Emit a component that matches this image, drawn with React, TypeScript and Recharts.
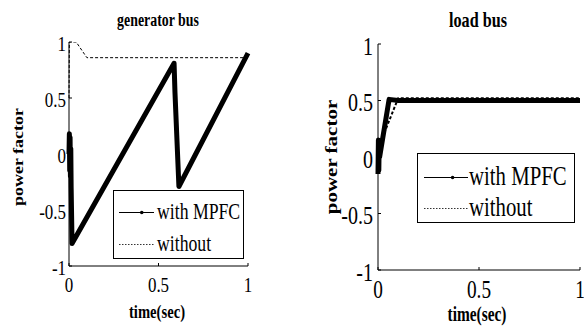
import { LineChart, Line, XAxis, YAxis, Legend } from 'recharts'

const FONT = "'Liberation Serif', 'Times New Roman', Tinos, 'DejaVu Serif', serif"
const SQ = 0.77

const xTicks = [0, 0.5, 1]
const yTicks = [-1, -0.5, 0, 0.5, 1]

// generator bus
const genTimeWith = [0, 0.002, 0.004, 0.006, 0.008, 0.01, 0.012, 0.017, 0.587, 0.592, 0.614, 1]
const genWith = [0, 0.18, -0.15, 0.15, -0.2, 0.05, -0.3, -0.8, 0.81, 0.55, -0.29, 0.9]
const genTimeWithout = [0, 0.002, 0.04, 0.1, 1]
const genWithout = [0.5, 1, 1, 0.86, 0.86]

// load bus
const loadTimeWith = [0, 0.002, 0.004, 0.006, 0.008, 0.055, 0.1, 1]
const loadWith = [-0.15, 0.15, -0.12, 0.12, 0, 0.51, 0.5, 0.5]
const loadTimeWithout = [0, 0.01, 0.1, 1]
const loadWithout = [0, 0.12, 0.52, 0.52]

const legendOrder = ['with MPFC', 'without']

const zip = (t: number[], v: number[]) => t.map((time, i) => ({ time, pf: v[i] }))

const makeYTick = (fs: number, gap: number) => (props: any) => {
  const { x, y, payload } = props
  return (
    <g>
      <line x1={x} x2={x + 3} y1={y} y2={y} stroke="#000" />
      <text
        transform={`translate(${x - gap},${y + 2}) scale(${SQ},1)`}
        textAnchor="end"
        dominantBaseline="central"
        fontSize={fs}
        fontFamily={FONT}
        fill="#000"
      >
        {payload.value}
      </text>
    </g>
  )
}

const makeXTick = (fs: number, off: number) => (props: any) => {
  const { x, y, payload } = props
  return (
    <g>
      <line x1={x} x2={x} y1={y} y2={y - 3} stroke="#000" />
      <text
        transform={`translate(${x},${y + off}) scale(${SQ},1)`}
        textAnchor="middle"
        dominantBaseline="central"
        fontSize={fs}
        fontFamily={FONT}
        fill="#000"
      >
        {payload.value}
      </text>
    </g>
  )
}

function LegendBox({ payload, fs, w, h, rows, sampleX, sampleW, textX }: any) {
  const items = [...(payload || [])].sort(
    (a: any, b: any) => legendOrder.indexOf(a.value) - legendOrder.indexOf(b.value)
  )
  return (
    <div
      style={{
        width: w,
        height: h,
        border: '1px solid #000',
        background: '#fff',
        position: 'relative',
        boxSizing: 'border-box',
      }}
    >
      {items.map((item: any, i: number) => {
        const dashed = item.value === 'without'
        return (
          <div key={item.value} style={{ position: 'absolute', left: 0, top: rows[i], width: w, height: 0 }}>
            <svg
              width={sampleW}
              height={7}
              style={{ position: 'absolute', left: sampleX, top: -4, overflow: 'visible', display: 'block' }}
            >
              <line
                x1={0}
                x2={sampleW}
                y1={3.5}
                y2={3.5}
                stroke="#000"
                strokeWidth={dashed ? 0.8 : 1}
                strokeDasharray={dashed ? '1.5 1.5' : undefined}
              />
              {!dashed && <circle cx={sampleW * 0.65} cy={3.5} r={1.8} fill="#000" />}
            </svg>
            <span
              style={{
                position: 'absolute',
                left: textX,
                top: 0,
                fontFamily: FONT,
                fontSize: fs,
                lineHeight: 1,
                whiteSpace: 'nowrap',
                transform: `translateY(-55%) scaleX(${SQ})`,
                transformOrigin: 'left center',
              }}
            >
              {item.value}
            </span>
          </div>
        )
      })}
    </div>
  )
}

function Text({ x, y, fs, rotate, children }: any) {
  return (
    <div
      style={{
        position: 'absolute',
        left: x,
        top: y,
        fontFamily: FONT,
        fontWeight: 'bold',
        fontSize: fs,
        lineHeight: 1,
        whiteSpace: 'nowrap',
        transform: `translate(-50%,-50%) scaleX(${SQ})${rotate ? ' rotate(-90deg)' : ''}`,
      }}
    >
      {children}
    </div>
  )
}

function Panel(p: any) {
  const m = p.margin
  return (
    <div style={{ position: 'absolute', left: p.left, top: 0, width: 292, height: 327 }}>
      <LineChart width={292} height={327} margin={{ top: m.top, right: m.right, bottom: 0, left: 0 }}>
        <XAxis
          type="number"
          dataKey="time"
          domain={[0, 1]}
          ticks={xTicks}
          height={m.bottom}
          tickSize={0}
          tickMargin={0}
          tickLine={false}
          axisLine={{ stroke: '#000' }}
          tick={makeXTick(p.xFs, p.xOff)}
          allowDuplicatedCategory={false}
        />
        <YAxis
          type="number"
          domain={[-1, 1]}
          ticks={yTicks}
          width={m.left}
          tickSize={0}
          tickMargin={0}
          tickLine={false}
          axisLine={{ stroke: '#000' }}
          tick={makeYTick(p.yFs, p.yGap)}
          allowDataOverflow
        />
        <Line
          data={p.without}
          dataKey="pf"
          name="without"
          stroke="#000"
          strokeWidth={p.withoutW}
          strokeDasharray="3 2"
          dot={false}
          isAnimationActive={false}
        />
        <Line
          data={p.withMpfc}
          dataKey="pf"
          name="with MPFC"
          stroke="#000"
          strokeWidth={5}
          strokeLinejoin="round"
          dot={false}
          isAnimationActive={false}
        />
        <Legend
          layout="vertical"
          align="center"
          verticalAlign="middle"
          wrapperStyle={{ left: p.legend.left, top: p.legend.top, width: p.legend.w, height: p.legend.h }}
          content={(props: any) => <LegendBox payload={props.payload} {...p.legend} />}
        />
      </LineChart>
      <Text x={p.titleX} y={20} fs={p.titleFs}>{p.title}</Text>
      <Text x={p.timeX} y={p.timeY} fs={p.timeFs}>time(sec)</Text>
      <Text x={p.pfX} y={157} fs={p.pfFs} rotate>power factor</Text>
    </div>
  )
}

export default function App() {
  return (
    <div style={{ position: 'absolute', left: 0, top: 0, width: 584, height: 327, background: '#fff' }}>
      <Panel
        left={0}
        margin={{ top: 42, right: 44, bottom: 61, left: 69 }}
        withMpfc={zip(genTimeWith, genWith)}
        without={zip(genTimeWithout, genWithout)}
        withoutW={1}
        xFs={22}
        xOff={19}
        yFs={22}
        yGap={3}
        title="generator bus"
        titleX={158}
        titleFs={18}
        timeX={157}
        timeY={311}
        timeFs={19}
        pfX={18}
        pfFs={18}
        legend={{ left: 113, top: 190, w: 131, h: 69, fs: 23, rows: [22, 54], sampleX: 5, sampleW: 35, textX: 43 }}
      />
      <Panel
        left={292}
        margin={{ top: 44, right: 4, bottom: 57, left: 86 }}
        withMpfc={zip(loadTimeWith, loadWith)}
        without={zip(loadTimeWithout, loadWithout)}
        withoutW={2}
        xFs={25}
        xOff={20}
        yFs={26}
        yGap={5}
        title="load bus"
        titleX={186}
        titleFs={21}
        timeX={185}
        timeY={314}
        timeFs={20}
        pfX={40}
        pfFs={21}
        legend={{ left: 125, top: 153, w: 158, h: 70, fs: 27, rows: [24, 55], sampleX: 6, sampleW: 44, textX: 51 }}
      />
    </div>
  )
}
